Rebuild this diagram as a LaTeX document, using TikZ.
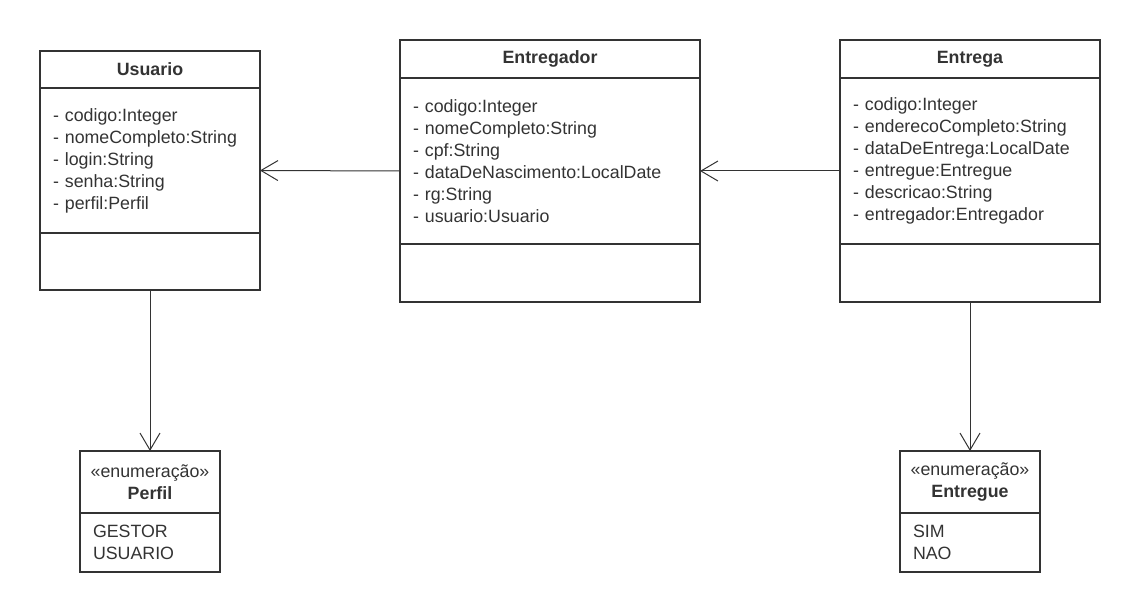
\documentclass[tikz,border=0pt]{standalone}
\usepackage{fontspec}
\setmainfont{Liberation Sans}
\usepackage{tikz}
\usetikzlibrary{arrows.meta,positioning}
\definecolor{umlgray}{HTML}{333333}
\newcommand{\umlfont}{\fontsize{17.8}{22}\selectfont}

\begin{document}
\begin{tikzpicture}[x=1pt,y=1pt,>={Straight Barb[length=17pt,width=20pt]},
  title node/.style={draw=umlgray,text=umlgray,line width=2pt,outer sep=0pt,
  font=\bfseries\umlfont},
  attr node/.style={draw=umlgray,text=umlgray,line width=2pt,outer sep=0pt,
  align=left,inner xsep=13pt,inner ysep=0pt,font=\umlfont},
  enum node/.style={draw=umlgray,text=umlgray,line width=2pt,outer sep=0pt,
  align=center,minimum width=140pt,minimum height=62pt,font=\umlfont}]

  \useasboundingbox (0,0) rectangle (1140,-612);

  \node[title node,anchor=north west,minimum width=220pt,minimum height=37pt] (usuario) at (40,-51) {Usuario};
  \node[attr node,text width=194pt,minimum height=145pt] (usuarioA) [below=0pt of usuario]
    {- codigo:Integer\\- nomeCompleto:String\\- login:String\\- senha:String\\- perfil:Perfil};
  \node[attr node,text width=194pt,minimum height=57pt] (usuarioM) [below=0pt of usuarioA] {};

  \node[title node,anchor=north west,minimum width=300pt,minimum height=38pt] (entregador) at (400,-40) {Entregador};
  \node[attr node,text width=274pt,minimum height=166pt] (entregadorA) [below=0pt of entregador]
    {- codigo:Integer\\- nomeCompleto:String\\- cpf:String\\- dataDeNascimento:LocalDate\\- rg:String\\- usuario:Usuario};
  \node[attr node,text width=274pt,minimum height=58pt] (entregadorM) [below=0pt of entregadorA] {};

  \node[title node,anchor=north west,minimum width=260pt,minimum height=38pt] (entrega) at (840,-40) {Entrega};
  \node[attr node,text width=234pt,minimum height=166pt] (entregaA) [below=0pt of entrega]
    {- codigo:Integer\\- enderecoCompleto:String\\- dataDeEntrega:LocalDate\\- entregue:Entregue\\- descricao:String\\- entregador:Entregador};
  \node[attr node,text width=234pt,minimum height=58pt] (entregaM) [below=0pt of entregaA] {};

  \node[enum node] (perfil) [below=161pt of usuarioM] {«enumeração»\\\textbf{Perfil}};
  \node[attr node,text width=114pt,minimum height=59pt] (perfilV) [below=0pt of perfil] {GESTOR\\USUARIO};

  \node[enum node] (entregue) [below=149pt of entregaM] {«enumeração»\\\textbf{Entregue}};
  \node[attr node,text width=114pt,minimum height=59pt] (entregueV) [below=0pt of entregue] {SIM\\NAO};

  \path[->,umlgray,line width=1pt]
    ([yshift=-10pt]entregadorA.west) edge ([yshift=-10pt]usuarioA.east)
    ([yshift=-10pt]entregaA.west) edge ([yshift=-10pt]entregadorA.east)
    (usuarioM.south) edge (perfil.north)
    (entregaM.south) edge (entregue.north);
\end{tikzpicture}
\end{document}
